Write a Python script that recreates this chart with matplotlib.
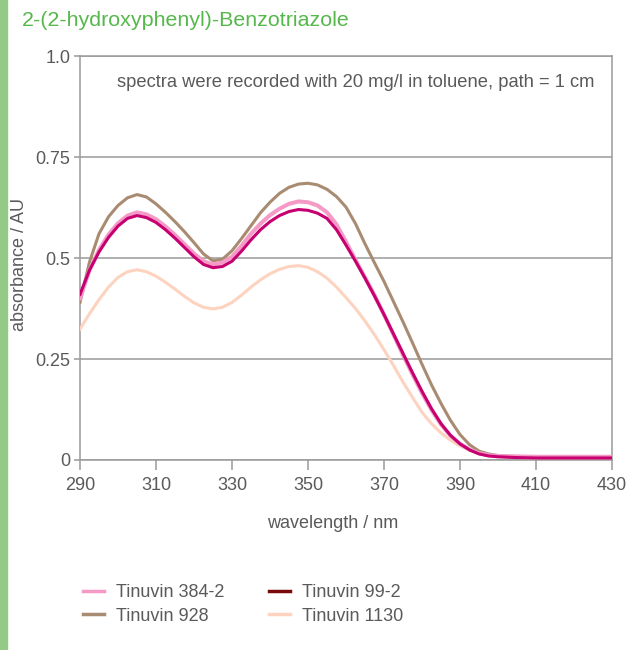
import matplotlib
matplotlib.use("Agg")
import matplotlib.pyplot as plt
from matplotlib.lines import Line2D
from matplotlib.patches import Rectangle

wavelength = [290, 292.5, 295, 297.5, 300, 302.5, 305, 307.5, 310, 312.5, 315, 317.5,
              320, 322.5, 325, 327.5, 330, 332.5, 335, 337.5, 340, 342.5, 345, 347.5,
              350, 352.5, 355, 357.5, 360, 362.5, 365, 367.5, 370, 372.5, 375, 377.5,
              380, 382.5, 385, 387.5, 390, 392.5, 395, 397.5, 400, 405, 410, 420, 430]

tinuvin_384_2 = [0.400, 0.470, 0.520, 0.558, 0.586, 0.605, 0.613, 0.608, 0.596, 0.578,
                 0.557, 0.534, 0.511, 0.492, 0.484, 0.489, 0.503, 0.530, 0.560, 0.585,
                 0.606, 0.622, 0.634, 0.640, 0.638, 0.630, 0.613, 0.583, 0.540, 0.495,
                 0.452, 0.408, 0.360, 0.310, 0.260, 0.212, 0.166, 0.124, 0.088, 0.060,
                 0.040, 0.026, 0.017, 0.012, 0.010, 0.009, 0.008, 0.008, 0.008]
tinuvin_928 = [0.390, 0.490, 0.560, 0.602, 0.630, 0.649, 0.657, 0.651, 0.634, 0.613,
               0.590, 0.565, 0.538, 0.510, 0.493, 0.497, 0.518, 0.548, 0.580, 0.612,
               0.638, 0.660, 0.675, 0.683, 0.685, 0.681, 0.670, 0.652, 0.626, 0.585,
               0.535, 0.488, 0.442, 0.392, 0.342, 0.290, 0.237, 0.186, 0.140, 0.098,
               0.063, 0.038, 0.022, 0.015, 0.011, 0.008, 0.007, 0.006, 0.006]
tinuvin_99_2 = [0.410, 0.470, 0.515, 0.551, 0.579, 0.598, 0.605, 0.600, 0.588, 0.570,
                0.549, 0.526, 0.503, 0.484, 0.476, 0.479, 0.492, 0.517, 0.545, 0.570,
                0.590, 0.605, 0.615, 0.620, 0.618, 0.611, 0.598, 0.570, 0.532, 0.492,
                0.450, 0.406, 0.360, 0.312, 0.264, 0.216, 0.170, 0.127, 0.090, 0.061,
                0.040, 0.025, 0.015, 0.010, 0.008, 0.006, 0.005, 0.005, 0.005]
tinuvin_1130 = [0.324, 0.362, 0.397, 0.428, 0.452, 0.466, 0.471, 0.466, 0.455, 0.440,
                0.423, 0.405, 0.389, 0.378, 0.374, 0.378, 0.390, 0.408, 0.428, 0.446,
                0.461, 0.472, 0.479, 0.481, 0.477, 0.466, 0.450, 0.428, 0.402, 0.375,
                0.344, 0.310, 0.273, 0.234, 0.193, 0.155, 0.118, 0.090, 0.067, 0.049,
                0.035, 0.024, 0.016, 0.011, 0.008, 0.006, 0.005, 0.005, 0.005]

series_names = ["Tinuvin 384-2", "Tinuvin 928", "Tinuvin 99-2", "Tinuvin 1130"]
x_ticks = [290, 310, 330, 350, 370, 390, 410, 430]
y_ticks = [0, 0.25, 0.5, 0.75, 1.0]
y_tick_labels = ["0", "0.25", "0.5", "0.75", "1.0"]

plt.rcParams['font.family'] = ['Liberation Sans', 'DejaVu Sans']

c_pink = '#f59ac6'
c_brown = '#a98b72'
c_magenta = '#c60070'
c_peach = '#fdd3c0'
c_legend_red = '#7a0a0a'
txt = '#5a5a5a'
grid_c = '#9a9a9a'

fig = plt.figure(figsize=(6.34, 6.50), dpi=100)
fig.patches.append(Rectangle((0, 0), 7 / 634, 1, transform=fig.transFigure,
                             color='#94c986', zorder=0))

ax = fig.add_axes([80 / 634, 1 - 460 / 650, (612 - 80) / 634, (460 - 56) / 650])

lw = 2.2
ax.plot(wavelength, tinuvin_1130, color=c_peach, lw=lw, zorder=3)
ax.plot(wavelength, tinuvin_928, color=c_brown, lw=lw, zorder=4)
ax.plot(wavelength, tinuvin_384_2, color=c_pink, lw=lw + 0.7, zorder=5)
ax.plot(wavelength, tinuvin_99_2, color=c_magenta, lw=lw, zorder=6)

ax.set_xlim(290, 430)
ax.set_ylim(0, 1.0)
ax.set_xticks(x_ticks)
ax.set_yticks(y_ticks)
ax.set_yticklabels(y_tick_labels)
ax.yaxis.grid(True, color=grid_c, lw=1.1)
ax.set_axisbelow(True)
for s in ax.spines.values():
    s.set_color(grid_c)
    s.set_linewidth(1.1)
ax.tick_params(axis='x', direction='out', length=7, width=1.1, color=grid_c,
               labelcolor=txt, labelsize=13, pad=5)
ax.tick_params(axis='y', direction='out', length=4, width=1.1, color=grid_c,
               labelcolor=txt, labelsize=13, pad=3)

ax.set_xlabel("wavelength / nm", color=txt, fontsize=13)
ax.xaxis.set_label_coords(0.475, -0.135)
ax.set_ylabel("absorbance / AU", color=txt, fontsize=13)
ax.yaxis.set_label_coords(-0.097, 0.485)

ax.text(0.07, 0.955, "spectra were recorded with 20 mg/l in toluene, path = 1 cm",
        transform=ax.transAxes, ha='left', va='top', color=txt, fontsize=13.2)

fig.text(22 / 634, 1 - 20 / 650, "2-(2-hydroxyphenyl)-Benzotriazole",
         color='#55b84a', fontsize=15.4, ha='left', va='center')

handles = [Line2D([], [], color=c_pink, lw=2.5),
           Line2D([], [], color=c_brown, lw=2.5),
           Line2D([], [], color=c_legend_red, lw=2.5),
           Line2D([], [], color=c_peach, lw=2.5)]
fig.legend(handles, series_names, ncol=2, frameon=False,
           loc='upper left', bbox_to_anchor=(69 / 634, 1 - 570 / 650),
           fontsize=13, labelcolor=txt, handlelength=1.15, handletextpad=0.65,
           columnspacing=2.5, labelspacing=0.35, borderpad=0.3)

fig.savefig("out.png", dpi=100, facecolor='white')
